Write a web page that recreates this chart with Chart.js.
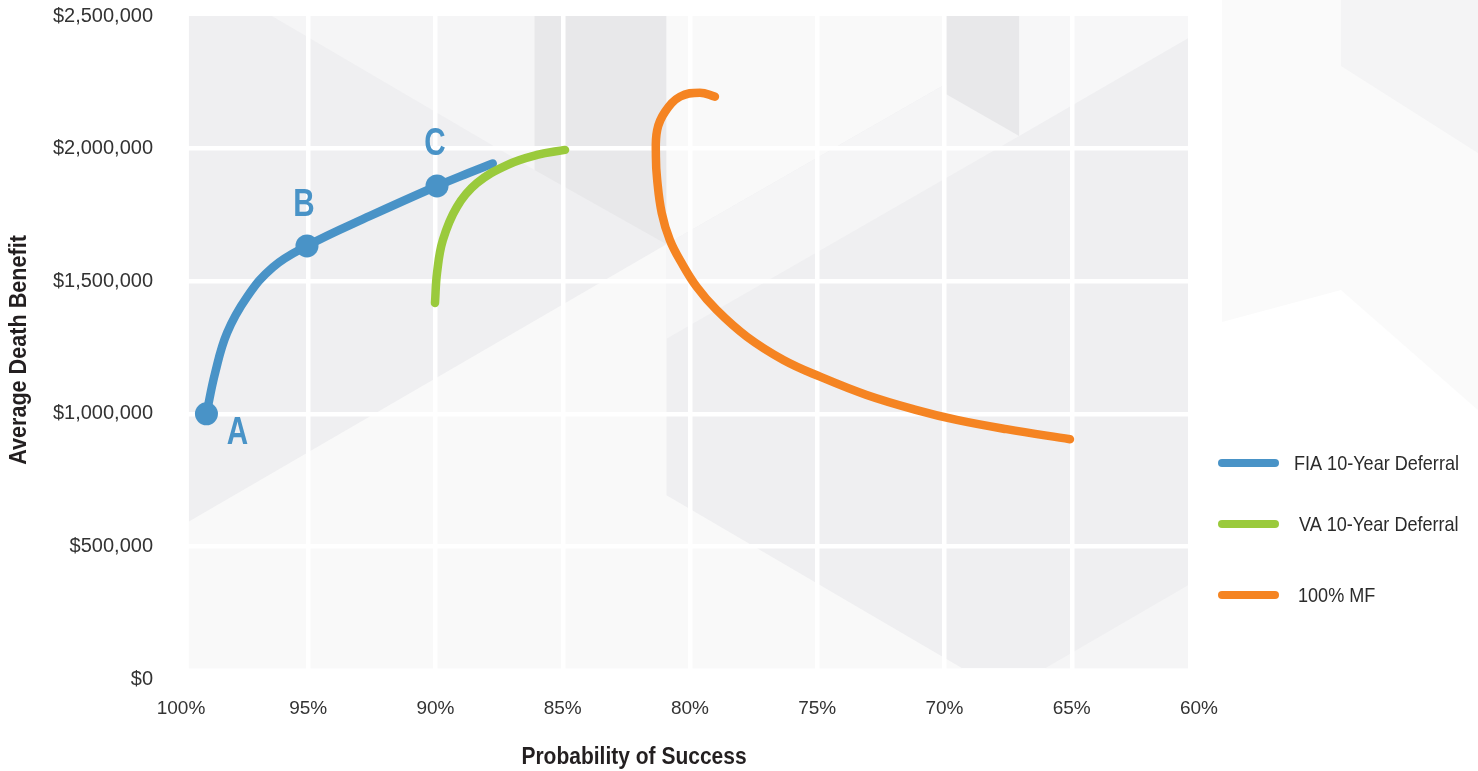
<!DOCTYPE html>
<html>
<head>
<meta charset="utf-8">
<title>Probability of Success vs Average Death Benefit</title>
<script src="https://cdn.jsdelivr.net/npm/chart.js@4/dist/chart.umd.min.js"></script>
<style>
  body { margin: 0; background: #ffffff; }
  #wrap { width: 1478px; height: 771px; position: relative; }
</style>
</head>
<body>
<div id="wrap"><canvas id="myChart"></canvas></div>
<script>
// ---- data ----
var seriesNames = ['FIA 10-Year Deferral', 'VA 10-Year Deferral', '100% MF'];

var fiaX = [99.0, 98.66, 98.19, 97.41, 96.39, 95.05, 92.57, 89.94, 88.70, 87.75];
var fiaY = [1000000, 1154000, 1305000, 1440000, 1553000, 1633000, 1746000, 1859000, 1908000, 1944000];

var markerX = [99.0, 95.05, 89.94];
var markerY = [1000000, 1633000, 1859000];
var markerLabels = ['A', 'B', 'C'];

var vaX = [90.02, 89.94, 89.71, 89.16, 88.37, 87.19, 86.01, 84.91];
var vaY = [1418000, 1531000, 1655000, 1780000, 1870000, 1938000, 1976000, 1995000];

var mfX = [79.02, 79.61, 80.39, 80.98, 81.29, 81.34, 81.29, 81.11, 80.79, 80.33, 79.74, 78.95, 77.77, 76.33, 74.89, 73.06, 71.09, 69.52, 67.56, 65.07];
var mfY = [2196000, 2211000, 2196000, 2139000, 2070000, 1969000, 1882000, 1757000, 1655000, 1569000, 1479000, 1391000, 1291000, 1203000, 1140000, 1071000, 1014000, 977000, 942000, 904000];

var xTicks = [100, 95, 90, 85, 80, 75, 70, 65, 60];
var yTicks = [0, 500000, 1000000, 1500000, 2000000, 2500000];

// ---- styling ----
var BLUE = '#4993c7';
var GREEN = '#9aca3c';
var ORANGE = '#f58422';
var TEXT = '#231f20';
var regular = '"Liberation Sans", Arial, sans-serif';

function toPoints(xs, ys) {
	var pts = [];
	for (var i = 0; i < xs.length; i++) {
		pts.push({ x: xs[i], y: ys[i] });
	}
	return pts;
}

function lineDataset(label, xs, ys, color, order) {
	return {
		label: label,
		data: toPoints(xs, ys),
		showLine: true,
		borderColor: color,
		backgroundColor: color,
		borderWidth: 8.5,
		borderCapStyle: 'round',
		borderJoinStyle: 'round',
		pointRadius: 0,
		pointHoverRadius: 0,
		tension: 0.4,
		fill: false,
		order: order
	};
}

// text squeezed sideways, the picture uses a condensed face
function squeezedText(ctx, text, x, y, sx, angle) {
	ctx.save();
	ctx.translate(x, y);
	if (angle) ctx.rotate(angle);
	ctx.scale(sx, 1);
	ctx.fillText(text, 0, 0);
	ctx.restore();
}

// decorative background facets, as fractions of the plot box
var bgShapes = [
	{ c: '#f5f5f6', p: [[0.083, 0], [0.346, 0], [0.346, 0.236]] },
	{ c: '#e8e8ea', p: [[0.346, 0], [0.478, 0], [0.478, 0.350], [0.346, 0.236]] },
	{ c: '#f9f9f9', p: [[0.478, 0], [0.758, 0], [0.758, 0.104], [0.709, 0.147], [0.478, 0.350]] },
	{ c: '#f5f5f6', p: [[0.478, 0.350], [0.758, 0.104], [0.831, 0.184], [0.478, 0.495]] },
	{ c: '#e8e8ea', p: [[0.758, 0], [0.831, 0], [0.831, 0.184], [0.758, 0.120]] },
	{ c: '#f7f7f8', p: [[0.831, 0], [1, 0], [1, 0.034], [0.831, 0.184]] },
	{ c: '#f9f9f9', p: [[0, 0.775], [0.478, 0.350], [0.478, 0.735], [0.774, 1], [0, 1]] },
	{ c: '#f5f5f6', p: [[0.857, 1], [1, 0.873], [1, 1]] }
];

function fillPoly(ctx, pts, color) {
	ctx.beginPath();
	for (var j = 0; j < pts.length; j++) {
		if (j === 0) ctx.moveTo(pts[j][0], pts[j][1]); else ctx.lineTo(pts[j][0], pts[j][1]);
	}
	ctx.closePath();
	ctx.fillStyle = color;
	ctx.fill();
}

var backgroundPlugin = {
	id: 'plotBackground',
	beforeDraw: function (chart) {
		var ctx = chart.ctx;
		var xs = chart.scales.x;
		var ys = chart.scales.y;
		var left = xs.getPixelForValue(99.69);
		var right = xs.getPixelForValue(60.43);
		var top = ys.getPixelForValue(2500000);
		var bottom = ys.getPixelForValue(41000);
		var w = right - left;
		var h = bottom - top;
		var W = chart.width;
		ctx.save();
		ctx.fillStyle = '#ffffff';
		ctx.fillRect(0, 0, W, chart.height);
		// faint facets to the right of the plot
		var fx = right + 34;
		fillPoly(ctx, [[fx, 0], [W, 0], [W, 410], [fx + 119, 290], [fx, 322]], '#fafafa');
		fillPoly(ctx, [[fx + 119, 0], [W, 0], [W, 153], [fx + 119, 66]], '#f4f4f5');
		ctx.fillStyle = '#efeff1';
		ctx.fillRect(left, top, w, h);
		for (var i = 0; i < bgShapes.length; i++) {
			var pts = bgShapes[i].p.map(function (q) { return [left + q[0] * w, top + q[1] * h]; });
			fillPoly(ctx, pts, bgShapes[i].c);
		}
		ctx.restore();
	}
};

var textPlugin = {
	id: 'chartTexts',
	afterDatasetsDraw: function (chart) {
		var ctx = chart.ctx;
		var xs = chart.scales.x;
		var ys = chart.scales.y;
		var offsets = [[31, 20], [-3, -40], [-2, -41]];
		ctx.save();
		ctx.fillStyle = BLUE;
		ctx.font = 'bold 38px ' + regular;
		ctx.textAlign = 'center';
		ctx.textBaseline = 'middle';
		for (var i = 0; i < markerLabels.length; i++) {
			var px = xs.getPixelForValue(markerX[i]) + offsets[i][0];
			var py = ys.getPixelForValue(markerY[i]) + offsets[i][1];
			squeezedText(ctx, markerLabels[i], px, py, 0.78, 0);
		}
		ctx.restore();
	},
	afterDraw: function (chart) {
		var ctx = chart.ctx;
		var area = chart.chartArea;
		var colors = [BLUE, GREEN, ORANGE];
		var rowY = [463, 524, 595];
		var textX = [1294, 1299, 1298];
		var x0 = area.right + 23;
		ctx.save();
		// legend
		ctx.lineCap = 'round';
		ctx.lineWidth = 8;
		ctx.font = '21px ' + regular;
		ctx.fillStyle = '#2b2b2b';
		ctx.textAlign = 'left';
		ctx.textBaseline = 'middle';
		for (var i = 0; i < seriesNames.length; i++) {
			ctx.strokeStyle = colors[i];
			ctx.beginPath();
			ctx.moveTo(x0, rowY[i]);
			ctx.lineTo(x0 + 53, rowY[i]);
			ctx.stroke();
			squeezedText(ctx, seriesNames[i], textX[i], rowY[i] + 1, 0.86, 0);
		}
		// axis titles
		ctx.font = 'bold 24px ' + regular;
		ctx.fillStyle = TEXT;
		ctx.textAlign = 'center';
		squeezedText(ctx, 'Probability of Success', 634, 757, 0.875, 0);
		squeezedText(ctx, 'Average Death Benefit', 19, 350, 0.9, -Math.PI / 2);
		ctx.restore();
	}
};

function gridColor(edges) {
	return function (c) {
		if (c.tick && edges.indexOf(c.tick.value) !== -1) return 'rgba(0,0,0,0)';
		return '#ffffff';
	};
}

var myChart = new Chart(document.getElementById('myChart').getContext('2d'), {
	type: 'scatter',
	data: {
		datasets: [
			{
				label: 'markers',
				data: toPoints(markerX, markerY),
				pointRadius: 11.5,
				pointHoverRadius: 11.5,
				pointBackgroundColor: BLUE,
				pointBorderWidth: 0,
				showLine: false,
				order: 0
			},
			lineDataset(seriesNames[1], vaX, vaY, GREEN, 1),
			lineDataset(seriesNames[0], fiaX, fiaY, BLUE, 2),
			lineDataset(seriesNames[2], mfX, mfY, ORANGE, 3)
		]
	},
	options: {
		responsive: true,
		maintainAspectRatio: false,
		animation: false,
		layout: { padding: { top: 16, right: 279, left: 0, bottom: 0 } },
		plugins: {
			legend: { display: false },
			tooltip: { enabled: false }
		},
		scales: {
			x: {
				type: 'linear',
				reverse: true,
				min: 60,
				max: 100,
				afterBuildTicks: function (scale) {
					scale.ticks = xTicks.map(function (v) { return { value: v }; });
				},
				afterFit: function (scale) { scale.height = 92; },
				ticks: {
					callback: function (v) { return v + '%'; },
					font: { size: 19, family: regular },
					color: '#333333',
					padding: 18,
					maxRotation: 0
				},
				grid: { color: gridColor([60, 100]), lineWidth: 4.5, drawTicks: false },
				border: { display: false }
			},
			y: {
				min: 0,
				max: 2500000,
				afterBuildTicks: function (scale) {
					scale.ticks = yTicks.map(function (v) { return { value: v }; });
				},
				afterFit: function (scale) {
					scale.width = 181;
					scale.paddingTop = 0;
					scale.paddingBottom = 0;
				},
				ticks: {
					callback: function (v) { return '$' + v.toLocaleString('en-US'); },
					font: { size: 20, family: regular },
					color: '#333333',
					padding: 28
				},
				grid: { color: gridColor([0, 2500000]), lineWidth: 4.5, drawTicks: false },
				border: { display: false }
			}
		}
	},
	plugins: [backgroundPlugin, textPlugin]
});
</script>
</body>
</html>
